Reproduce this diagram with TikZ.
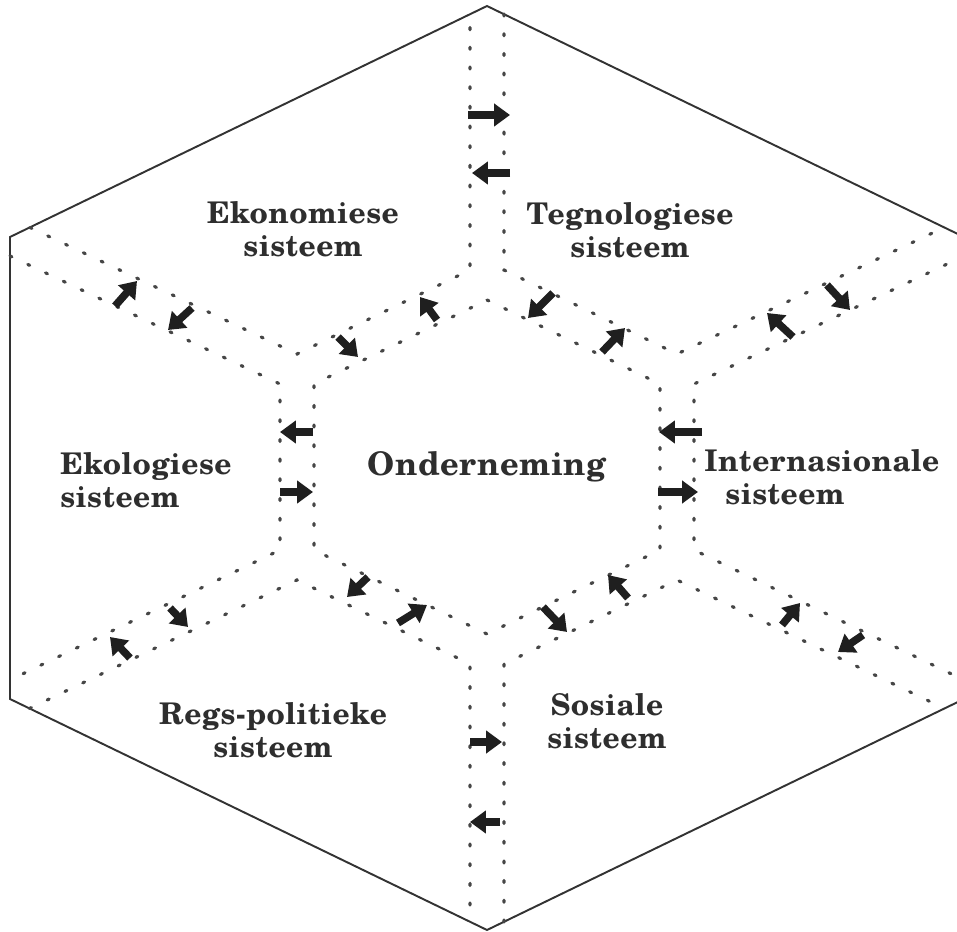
\documentclass[tikz,border=0pt]{standalone}
\usepackage{fontspec}
\newfontfamily\scholavet[LetterSpace=1.5]{texgyreschola-bold.otf}
\usetikzlibrary{arrows.meta}
\tikzset{
	x=0.02cm,
	y=-0.02cm,
	rand/.style={line width=1.1pt, black!80},
	kanaal/.style={line width=1.8pt, gray!55!black, line cap=round, dash pattern=on 1.2pt off 10pt},
	vloei/.style={-{Triangle[width=12.5pt,length=9pt]}, line width=4.3pt, black!88},
	stelsel/.style={font=\fontsize{17}{19}\scholavet, text=black!82, align=center, inner sep=0pt},
}
\begin{document}
\begin{tikzpicture}
	
	\useasboundingbox (0,0) rectangle (957,932);
	\clip (0,0) rectangle (957,932);
	
	\coordinate (O1) at (487,6);
	\coordinate (O2) at (964,237);
	\coordinate (O3) at (964,699);
	\coordinate (O4) at (487,930);
	\coordinate (O5) at (10,699);
	\coordinate (O6) at (10,237);
	
	\coordinate (c1) at (487,300);
	\coordinate (c2) at (660,384);
	\coordinate (c3) at (660,550);
	\coordinate (c4) at (487,634);
	\coordinate (c5) at (314,550);
	\coordinate (c6) at (314,384);
	
	\coordinate (e1) at (30,227.5);
	\coordinate (e2) at (297,354);
	\coordinate (e3) at (470,270);
	\coordinate (e4) at (470,14);
	
	\coordinate (t1) at (504,14);
	\coordinate (t2) at (504,270);
	\coordinate (t3) at (677,354);
	\coordinate (t4) at (944,227.5);
	
	\coordinate (k1) at (10,256);
	\coordinate (k2) at (280,384);
	\coordinate (k3) at (280,550);
	\coordinate (k4) at (10,680);
	
	\coordinate (n1) at (964,256);
	\coordinate (n2) at (694,384);
	\coordinate (n3) at (694,550);
	\coordinate (n4) at (964,680);
	
	\coordinate (r1) at (29.5,708.5);
	\coordinate (r2) at (297,580);
	\coordinate (r3) at (470,664);
	\coordinate (r4) at (470,922);
	
	\coordinate (s1) at (504,922);
	\coordinate (s2) at (504,664);
	\coordinate (s3) at (677,580);
	\coordinate (s4) at (944.5,708.5);
	
	\draw[rand] (O1) -- (O2) -- (O3) -- (O4) -- (O5) -- (O6) -- cycle;
	
	\draw[kanaal] (c1) -- (c2) -- (c3) -- (c4) -- (c5) -- (c6) -- cycle;
	\draw[kanaal] (e1) -- (e2) -- (e3) -- (e4);
	\draw[kanaal] (t1) -- (t2) -- (t3) -- (t4);
	\draw[kanaal] (k1) -- (k2) -- (k3) -- (k4);
	\draw[kanaal] (n1) -- (n2) -- (n3) -- (n4);
	\draw[kanaal] (r1) -- (r2) -- (r3) -- (r4);
	\draw[kanaal] (s1) -- (s2) -- (s3) -- (s4);
	
	\node[stelsel, font=\fontsize{18.5}{20}\scholavet] (ONDERNEMING) at (487,467) {Onderneming};
	\node[stelsel] (EKONOMIES) at (303,229) {Ekonomiese\\sisteem};
	\node[stelsel] (TEGNOLOGIES) at (630,230) {Tegnologiese\\sisteem};
	\node[stelsel, align=left, anchor=west] (EKOLOGIES) at (60,480) {Ekologiese\\sisteem};
	\node[stelsel, align=left, anchor=west] (INTERNASIONAAL) at (704,477) {Internasionale\\\hspace*{12pt}sisteem};
	\node[stelsel] (REGSPOLITIEK) at (273,730) {Regs-politieke\\sisteem};
	\node[stelsel] (SOSIAAL) at (607,721) {Sosiale\\sisteem};
	
	\draw[vloei] (468,115) -- (510,115);
	\draw[vloei] (510,173) -- (472,173);
	\draw[vloei] (115,306) -- (137,281);
	\draw[vloei] (192,308) -- (168,330);
	\draw[vloei] (338,337) -- (358,357);
	\draw[vloei] (437,320) -- (420,297);
	\draw[vloei] (553,293) -- (528,318);
	\draw[vloei] (602,352) -- (625,328);
	\draw[vloei] (793,337) -- (767,313);
	\draw[vloei] (827,285) -- (850,310);
	\draw[vloei] (313,432) -- (280,432);
	\draw[vloei] (280,492) -- (313,492);
	\draw[vloei] (702,432) -- (659,432);
	\draw[vloei] (658,492) -- (698,492);
	\draw[vloei] (170,608) -- (188,627);
	\draw[vloei] (130,658) -- (110,637);
	\draw[vloei] (368,577) -- (347,597);
	\draw[vloei] (398,623) -- (427,605);
	\draw[vloei] (543,607) -- (567,632);
	\draw[vloei] (628,598) -- (608,575);
	\draw[vloei] (782,625) -- (800,603);
	\draw[vloei] (863,635) -- (838,652);
	\draw[vloei] (470,742) -- (502,742);
	\draw[vloei] (500,822) -- (470,822);
	
\end{tikzpicture}
\end{document}
